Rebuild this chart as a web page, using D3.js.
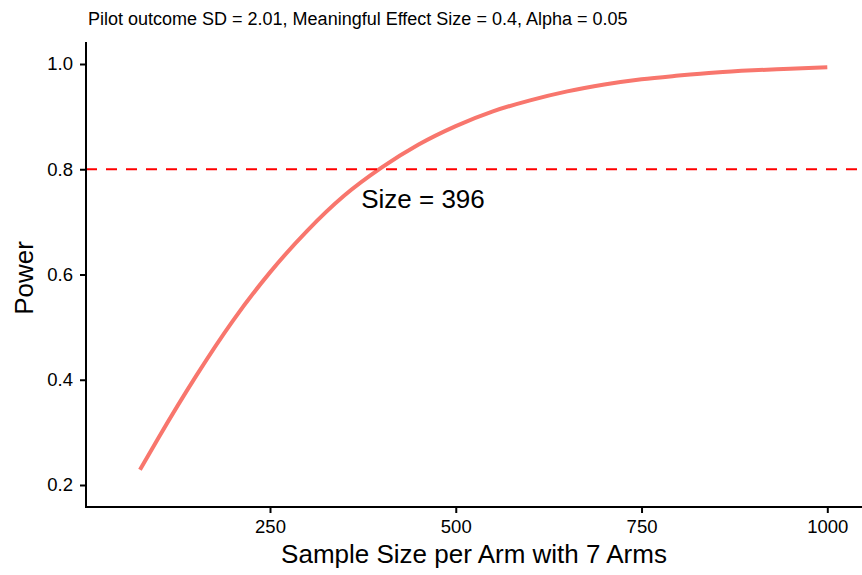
<!DOCTYPE html>
<html><head><meta charset="utf-8">
<script src="https://cdn.jsdelivr.net/npm/d3@7"></script>
<style>body{margin:0;background:#fff}svg{display:block;font-family:"Liberation Sans",Arial,sans-serif}</style>
</head><body><svg id="c" width="862" height="575"></svg>
<script>
const sampleSizes = [75,100,150,200,250,300,350,400,450,500,550,600,650,700,750,800,850,900,950,1000];
const powerValues = [0.229,0.290,0.406,0.512,0.604,0.683,0.750,0.803,0.847,0.882,0.910,0.931,0.948,0.961,0.971,0.978,0.984,0.988,0.991,0.994];
const xTicks = [250,500,750,1000];
const yTicks = [0.2,0.4,0.6,0.8,1.0];
const targetPower = 0.8;
const sizeLabel = "Size = 396";
const labelPos = [423, 0.74];
const subtitle = "Pilot outcome SD = 2.01, Meaningful Effect Size = 0.4, Alpha = 0.05";
const xTitle = "Sample Size per Arm with 7 Arms";
const yTitle = "Power";

(function(){
const svg = d3.select("#c");
const pLeft = 86, pRight = 862, pTop = 42, pBottom = 507;
const x = d3.scaleLinear().domain([250,1000]).range([270,827.3]);
const y = d3.scaleLinear().domain([0.2,1.0]).range([485,64]);

// curve
svg.append("path").datum(sampleSizes.map((d,i)=>[d,powerValues[i]]))
  .attr("d", d3.line().x(d=>x(d[0])).y(d=>y(d[1])).curve(d3.curveMonotoneX))
  .attr("fill","none").attr("stroke","#F8766D").attr("stroke-width",4);

// dashed line
svg.append("line").attr("x1",pLeft).attr("x2",pRight).attr("y1",y(targetPower)).attr("y2",y(targetPower))
  .attr("stroke","#FF0000").attr("stroke-width",2).attr("stroke-dasharray","11,9");

svg.append("text").attr("x",labelPos[0]).attr("y",207.5).attr("text-anchor","middle")
  .attr("font-size",26).attr("fill","#000").text(sizeLabel);

// axes
const gx = svg.append("g").attr("transform",`translate(0,${pBottom})`)
  .call(d3.axisBottom(x).tickValues(xTicks).tickSize(6).tickPadding(8).tickFormat(d3.format("d")));
gx.select(".domain").remove();
gx.selectAll("line").attr("stroke","#000").attr("stroke-width",2);
gx.selectAll("text").attr("font-size",18.5).attr("fill","#000").attr("dy",null).attr("y",null)
  .attr("transform","translate(0,26)").attr("font-family","Liberation Sans, Arial, sans-serif");
svg.append("line").attr("x1",pLeft-1).attr("x2",pRight).attr("y1",pBottom).attr("y2",pBottom).attr("stroke","#000").attr("stroke-width",2);

const gy = svg.append("g").attr("transform",`translate(${pLeft},0)`)
  .call(d3.axisLeft(y).tickValues(yTicks).tickSize(6).tickPadding(7).tickFormat(d3.format(".1f")));
gy.select(".domain").remove();
gy.selectAll("line").attr("stroke","#000").attr("stroke-width",2);
gy.selectAll("text").attr("font-size",18.5).attr("fill","#000").attr("font-family","Liberation Sans, Arial, sans-serif");
svg.append("line").attr("x1",pLeft).attr("x2",pLeft).attr("y1",pTop).attr("y2",pBottom+1).attr("stroke","#000").attr("stroke-width",2);

svg.append("text").attr("x",88).attr("y",25).attr("font-size",18).attr("fill","#000").text(subtitle);
svg.append("text").attr("x",474).attr("y",563).attr("text-anchor","middle").attr("font-size",26).attr("fill","#000").text(xTitle);
svg.append("text").attr("transform",`translate(33,278) rotate(-90)`).attr("text-anchor","middle")
  .attr("font-size",26).attr("fill","#000").text(yTitle);
})();
</script></body></html>
